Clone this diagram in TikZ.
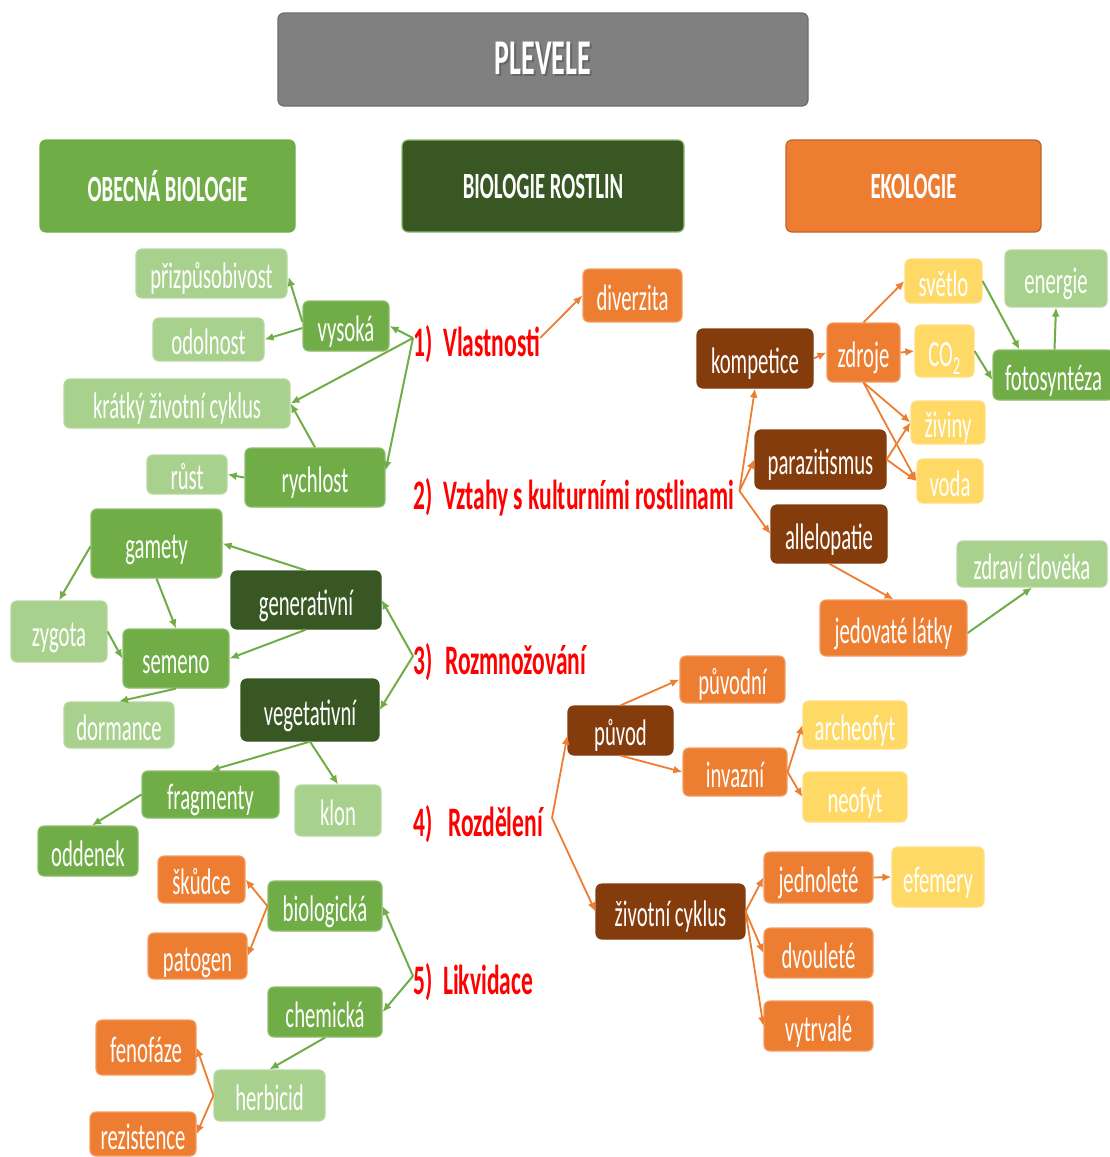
\documentclass[tikz,border=0pt]{standalone}
\usepackage{fontspec}
\setmainfont{Carlito}[FakeStretch=0.56]
\usetikzlibrary{arrows.meta,calc}

\definecolor{cg}{HTML}{70AD47}
\definecolor{clg}{HTML}{A9D18E}
\definecolor{cdg}{HTML}{385723}
\definecolor{cor}{HTML}{ED7D31}
\definecolor{cbr}{HTML}{843C0C}
\definecolor{cye}{HTML}{FFD966}
\definecolor{cgy}{HTML}{808080}
\definecolor{cred}{HTML}{FF0000}

\newcommand\fsz[1]{\fontsize{#1}{#1}\selectfont}

\tikzset{
  sz/.style 2 args={minimum width=#1pt, minimum height=#2pt},
  box/.style={rectangle, rounded corners=6pt, inner sep=0pt, text=white,
              font=\fsz{37}, line width=1.2pt},
  item/.style={box, text height=30pt, text depth=0pt},
  gbox/.style={item, fill=cg, draw=cg!80!white},
  lgbox/.style={item, fill=clg, draw=clg!85!white},
  dgbox/.style={item, fill=cdg, draw=cdg},
  obox/.style={item, fill=cor, draw=cor!75!white},
  brbox/.style={item, fill=cbr, draw=cbr},
  ybox/.style={item, fill=cye, draw=cye!85!white},
  headbox/.style={box, font=\bfseries\fsz{37}},
  hd/.style={anchor=west, inner sep=0pt, text height=36pt, text depth=0pt,
             text=cred, font=\bfseries\fsz{42}},
  ga/.style={draw=cg, line width=2pt, -{Latex[length=9pt,width=8pt]}},
  oa/.style={draw=cor, line width=1.8pt, -{Latex[length=9pt,width=8pt]}},
}

\begin{document}
\begin{tikzpicture}[x=1pt, y=-1pt]
\useasboundingbox (0,0) rectangle (1110,1157);

% title and the three topic headers
\node[box, fill=cgy, draw=cgy!85!black, sz={530}{93}, font=\bfseries\fsz{50}] (title) at (543,59.5)
  {\rlap{\hspace{2pt}\raisebox{-2.5pt}{\color{black!60}PLEVELE}}PLEVELE};
\node[headbox, fill=cg, draw=cg, sz={255}{92}] (obecna) at (167.5,186) {OBECNÁ BIOLOGIE};
\node[headbox, fill=cdg, draw=cg!80!white, sz={282}{92}] (rostlin) at (543,186) {BIOLOGIE ROSTLIN};
\node[headbox, fill=cor, draw=cor!80!black, sz={255}{92}] (ekologie) at (913.5,186) {EKOLOGIE};

% numbered topics
\node[hd] (h1) at (413,338) {\makebox[30pt][l]{1)}Vlastnosti};
\node[hd] (h2) at (413,491) {\makebox[30pt][l]{2)}Vztahy s kulturními rostlinami};
\node[hd] (h3) at (413,656) {\makebox[32pt][l]{3)}Rozmnožování};
\node[hd] (h4) at (413,818) {\makebox[35pt][l]{4)}Rozdělení};
\node[hd] (h5) at (413,976) {\makebox[30pt][l]{5)}Likvidace};

% left branch
\node[lgbox, sz={151}{49}] (prizp) at (211.5,273.5) {přizpůsobivost};
\node[gbox, sz={86}{50}] (vysoka) at (346,326) {vysoká};
\node[lgbox, sz={111}{43}] (odolnost) at (208.5,339.5) {odolnost};
\node[lgbox, sz={226}{49}] (kratky) at (177,403.5) {krátký životní cyklus};
\node[lgbox, sz={80}{39}] (rust) at (187,474.5) {růst};
\node[gbox, sz={140}{59}] (rychlost) at (315,477.5) {rychlost};
\node[gbox, sz={131}{69}] (gamety) at (156.5,543.5) {gamety};
\node[dgbox, sz={150}{58}] (gener) at (306,600) {generativní};
\node[lgbox, sz={96}{61}] (zygota) at (59,631.5) {zygota};
\node[gbox, sz={106}{59}] (semeno) at (176,658.5) {semeno};
\node[lgbox, sz={110}{46}] (dormance) at (119,725) {dormance};
\node[dgbox, sz={138}{62}] (veget) at (310,710) {vegetativní};
\node[gbox, sz={137}{47}] (fragm) at (210.5,794.5) {fragmenty};
\node[lgbox, sz={86}{51}] (klon) at (338,810.5) {klon};
\node[gbox, sz={100}{50}] (oddenek) at (88,851) {oddenek};
\node[obox, sz={87}{47}] (skudce) at (201.5,879.5) {škůdce};
\node[gbox, sz={114}{50}] (biol) at (325,906) {biologická};
\node[obox, sz={99}{46}] (patogen) at (197.5,956) {patogen};
\node[gbox, sz={114}{50}] (chem) at (325,1012) {chemická};
\node[obox, sz={100}{55}] (fenofaze) at (146,1047.5) {fenofáze};
\node[lgbox, sz={111}{51}] (herbicid) at (269.5,1095.5) {herbicid};
\node[obox, sz={106}{44}] (rezist) at (143,1134) {rezistence};

% right branch
\node[obox, sz={99}{53}] (diverzita) at (632.5,295.5) {diverzita};
\node[brbox, sz={116}{59}] (kompetice) at (755,358.5) {kompetice};
\node[obox, sz={73}{59}] (zdroje) at (863.5,352.5) {zdroje};
\node[ybox, sz={77}{44}] (svetlo) at (943.5,281) {světlo};
\node[ybox, sz={59}{52}] (co2) at (944.5,351) {CO\textsubscript{2}};
\node[lgbox, sz={102}{57}] (energie) at (1056,278.5) {energie};
\node[gbox, sz={121}{50}] (foto) at (1053.5,375) {fotosyntéza};
\node[ybox, sz={74}{43}] (ziviny) at (948,422.5) {živiny};
\node[brbox, sz={131}{59}] (parazit) at (820.5,459.5) {parazitismus};
\node[ybox, sz={66}{44}] (voda) at (950,481) {voda};
\node[brbox, sz={116}{58}] (allelo) at (829,534) {allelopatie};
\node[lgbox, sz={150}{46}] (zdravi) at (1032,564) {zdraví člověka};
\node[obox, sz={147}{56}] (jedovate) at (893.5,628) {jedovaté látky};
\node[obox, sz={105}{47}] (puvodni) at (732.5,679.5) {původní};
\node[brbox, sz={105}{49}] (puvod) at (620.5,730.5) {původ};
\node[ybox, sz={104}{48}] (archeo) at (855,725) {archeofyt};
\node[obox, sz={104}{48}] (invazni) at (735,772) {invazní};
\node[ybox, sz={104}{50}] (neofyt) at (855,797) {neofyt};
\node[obox, sz={109}{51}] (jednol) at (818.5,877.5) {jednoleté};
\node[ybox, sz={92}{60}] (efemery) at (938,877) {efemery};
\node[brbox, sz={149}{55}] (zivcyk) at (670.5,911.5) {životní cyklus};
\node[obox, sz={109}{50}] (dvoul) at (818.5,953) {dvouleté};
\node[obox, sz={109}{50}] (vytrv) at (818.5,1026) {vytrvalé};

% green connectors
\draw[ga] (h1.west) -- (vysoka.east);
\draw[ga] (h1.west) -- (kratky.east);
\draw[ga] (h1.west) -- ($(rychlost.east)+(0,-7)$);
\draw[ga] ($(vysoka.west)+(0,-4)$) -- ($(prizp.east)+(1,3.5)$);
\draw[ga] ($(vysoka.west)+(0,2)$) -- (odolnost.east);
\draw[ga] (rychlost.north) -- (kratky.east);
\draw[ga] (rychlost.west) -- (rust.east);
\draw[ga] (gener.north) -- (gamety.east);
\draw[ga] (gener.south) -- (semeno.east);
\draw[ga] (h3.west) -- (gener.east);
\draw[ga] (h3.west) -- (veget.east);
\draw[ga] ($(gamety.west)+(0,3)$) -- (zygota.north);
\draw[ga] (gamety.south) -- (semeno.north);
\draw[ga] (zygota.east) -- (semeno.west);
\draw[ga] (semeno.south) -- (dormance.north);
\draw[ga] (veget.south) -- (fragm.north);
\draw[ga] (veget.south) -- (klon.north);
\draw[ga] (fragm.west) -- ($(oddenek.north)+(4,0)$);
\draw[ga] (h5.west) -- (biol.east);
\draw[ga] (h5.west) -- (chem.east);
\draw[ga] (chem.south) -- (herbicid.north);
\draw[ga] ($(foto.north)+(1,0)$) -- (energie.south);
\draw[ga] (svetlo.east) -- ($(foto.north)+(-34,0)$);
\draw[ga] (co2.east) -- ($(foto.west)+(0,5)$);
\draw[ga] ($(jedovate.east)+(0,5)$) -- (zdravi.south);

% orange connectors
\draw[oa] (h1.east) -- (diverzita.west);
\draw[oa] ($(h2.east)+(5,0)$) -- (kompetice.south);
\draw[oa] ($(h2.east)+(5,0)$) -- (parazit.west);
\draw[oa] ($(h2.east)+(5,0)$) -- (allelo.west);
\draw[oa] (kompetice.east) -- (zdroje.west);
\draw[oa] (zdroje.north) -- (svetlo.west);
\draw[oa] (zdroje.east) -- (co2.west);
\draw[oa] (zdroje.south) -- (ziviny.west);
\draw[oa] (zdroje.south) -- (voda.west);
\draw[oa] (parazit.east) -- (ziviny.west);
\draw[oa] (parazit.east) -- (voda.west);
\draw[oa] (allelo.south) -- (jedovate.north);
\draw[oa] ($(h4.east)+(9,0)$) -- ($(puvod.west)+(0,5)$);
\draw[oa] ($(h4.east)+(9,0)$) -- (zivcyk.west);
\draw[oa] (puvod.north) -- (puvodni.west);
\draw[oa] (puvod.south) -- (invazni.west);
\draw[oa] (invazni.east) -- (archeo.west);
\draw[oa] (invazni.east) -- (neofyt.west);
\draw[oa] (zivcyk.east) -- (jednol.west);
\draw[oa] (zivcyk.east) -- (dvoul.west);
\draw[oa] (zivcyk.east) -- (vytrv.west);
\draw[oa] (jednol.east) -- (efemery.west);
\draw[oa] (biol.west) -- (skudce.east);
\draw[oa] (biol.west) -- (patogen.east);
\draw[oa] (herbicid.west) -- (fenofaze.east);
\draw[oa] (herbicid.west) -- (rezist.east);
\end{tikzpicture}
\end{document}
